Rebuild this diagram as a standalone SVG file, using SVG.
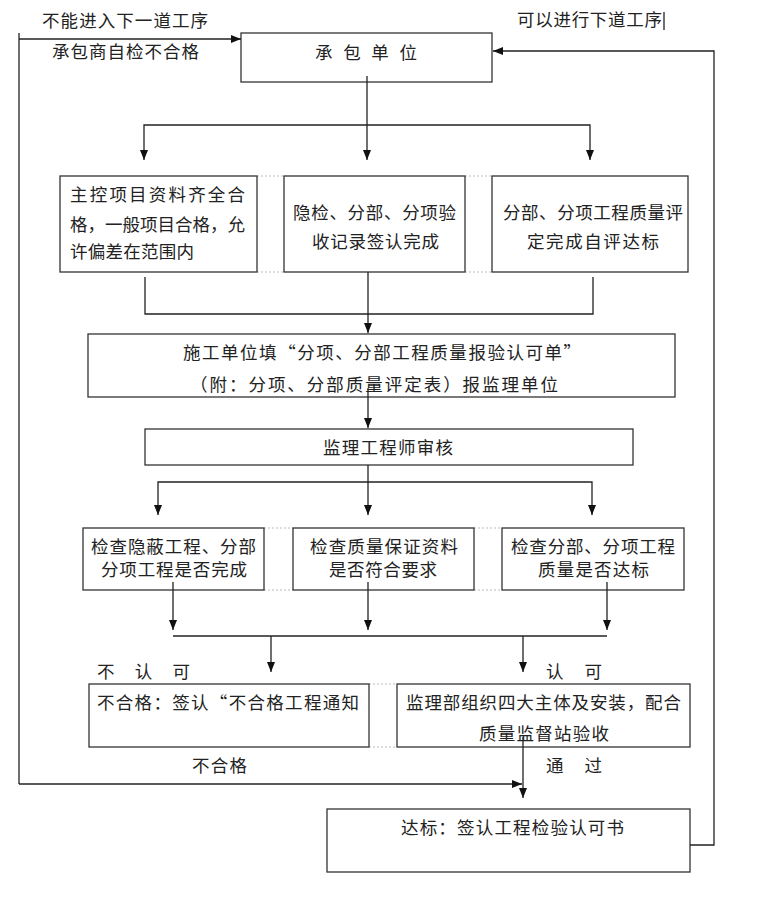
<svg xmlns="http://www.w3.org/2000/svg" width="760" height="903" viewBox="0 0 760 903">
<defs>
<marker id="ah" markerUnits="userSpaceOnUse" markerWidth="10" markerHeight="8" refX="10" refY="4" orient="auto">
<path d="M0,0 L10,4 L0,8 z" fill="#111"/>
</marker>
<style>
.box{fill:#fff;stroke:#333;stroke-width:1.3}
.t{font-family:"Noto Sans CJK SC","Noto Sans",sans-serif;font-size:17.5px;fill:#222}
.c{stroke:#222;stroke-width:1.3;fill:none}
.a{stroke:#222;stroke-width:1.3;fill:none;marker-end:url(#ah)}
.d{stroke:#bbb;stroke-width:1;stroke-dasharray:2,2;fill:none}
</style>
</defs>
<rect width="760" height="903" fill="#fff"/>

<g id="faint">
<path class="d" d="M257,176H284M465,176H492M257,272H284M465,272H492"/>
<path class="d" d="M264,528H293M474,528H502M264,590H293M474,590H502"/>
<path class="d" d="M369,684H397M369,747H397"/>
</g>

<g id="labels">
<text class="t" x="42" y="27" textLength="166" lengthAdjust="spacing">不能进入下一道工序</text>
<text class="t" x="52" y="58" textLength="147" lengthAdjust="spacing">承包商自检不合格</text>
<text class="t" x="517" y="26" textLength="145" lengthAdjust="spacing">可以进行下道工序</text>
<line x1="664" y1="12" x2="664" y2="30" stroke="#222" stroke-width="1.3"/>
<text class="t" x="97" y="678" textLength="93" lengthAdjust="spacing">不 认 可</text>
<text class="t" x="546" y="678" textLength="56" lengthAdjust="spacing">认 可</text>
<text class="t" x="192" y="772" textLength="55" lengthAdjust="spacing">不合格</text>
<text class="t" x="546" y="772" textLength="56" lengthAdjust="spacing">通 过</text>
</g>

<g id="n_top">
<rect class="box" x="241" y="33" width="251" height="49"/>
<text class="t" x="315" y="59" textLength="102" lengthAdjust="spacing">承 包 单 位</text>
</g>

<g id="n_r1a">
<rect class="box" x="60" y="176" width="197" height="96"/>
<text class="t" x="70" y="201" textLength="175" lengthAdjust="spacing">主控项目资料齐全合</text>
<text class="t" x="70" y="231" textLength="175" lengthAdjust="spacing">格，一般项目合格，允</text>
<text class="t" x="70" y="258" textLength="124" lengthAdjust="spacing">许偏差在范围内</text>
</g>
<g id="n_r1b">
<rect class="box" x="284" y="176" width="181" height="96"/>
<text class="t" x="293" y="219" textLength="163" lengthAdjust="spacing">隐检、分部、分项验</text>
<text class="t" x="312" y="248" textLength="127" lengthAdjust="spacing">收记录签认完成</text>
</g>
<g id="n_r1c">
<rect class="box" x="492" y="176" width="196" height="96"/>
<text class="t" x="503" y="219" textLength="180" lengthAdjust="spacing">分部、分项工程质量评</text>
<text class="t" x="527" y="248" textLength="132" lengthAdjust="spacing">定完成自评达标</text>
</g>

<g id="n_fill">
<rect class="box" x="88" y="334" width="587" height="63"/>
<text class="t" x="183" y="359" textLength="398" lengthAdjust="spacing">施工单位填“分项、分部工程质量报验认可单”</text>
<text class="t" x="190" y="391" textLength="368" lengthAdjust="spacing">（附：分项、分部质量评定表）报监理单位</text>
</g>

<g id="n_review">
<rect class="box" x="145" y="429" width="488" height="36"/>
<text class="t" x="323" y="454" textLength="130" lengthAdjust="spacing">监理工程师审核</text>
</g>

<g id="n_r3a">
<rect class="box" x="83" y="528" width="181" height="62"/>
<text class="t" x="91" y="553" textLength="165" lengthAdjust="spacing">检查隐蔽工程、分部</text>
<text class="t" x="101" y="576" textLength="146" lengthAdjust="spacing">分项工程是否完成</text>
</g>
<g id="n_r3b">
<rect class="box" x="293" y="528" width="181" height="62"/>
<text class="t" x="310" y="553" textLength="148" lengthAdjust="spacing">检查质量保证资料</text>
<text class="t" x="329" y="576" textLength="108" lengthAdjust="spacing">是否符合要求</text>
</g>
<g id="n_r3c">
<rect class="box" x="502" y="528" width="182" height="62"/>
<text class="t" x="511" y="553" textLength="164" lengthAdjust="spacing">检查分部、分项工程</text>
<text class="t" x="538" y="576" textLength="111" lengthAdjust="spacing">质量是否达标</text>
</g>

<g id="n_fail">
<rect class="box" x="89" y="684" width="280" height="63"/>
<text class="t" x="97" y="709" textLength="262" lengthAdjust="spacing">不合格：签认“不合格工程通知</text>
</g>
<g id="n_pass">
<rect class="box" x="397" y="684" width="293" height="63"/>
<text class="t" x="406" y="709" textLength="275" lengthAdjust="spacing">监理部组织四大主体及安装，配合</text>
<text class="t" x="479" y="740" textLength="130" lengthAdjust="spacing">质量监督站验收</text>
</g>

<g id="n_final">
<rect class="box" x="327" y="809" width="363" height="63"/>
<text class="t" x="401" y="834" textLength="223" lengthAdjust="spacing">达标：签认工程检验认可书</text>
</g>

<g id="connectors">
<path class="c" d="M19,33V784"/>
<path class="a" d="M19,39H241"/>
<path class="a" d="M19,784H522"/>
<path class="a" d="M690,845H714V51H493"/>
<path class="a" d="M367,76V160"/>
<path class="a" d="M367,125H144V160"/>
<path class="a" d="M367,125H590V160"/>
<path class="c" d="M145,277V314H593V277"/>
<path class="a" d="M368,272V333"/>
<path class="a" d="M368,388V428"/>
<path class="a" d="M368,465V515"/>
<path class="a" d="M368,482H158V515"/>
<path class="a" d="M368,482H592V515"/>
<path class="a" d="M173,582V630"/>
<path class="a" d="M368,582V630"/>
<path class="a" d="M607,582V630"/>
<path class="c" d="M173,636H607"/>
<path class="a" d="M271,636V672"/>
<path class="a" d="M523,636V672"/>
<path class="a" d="M523,737V798"/>
</g>
</svg>
